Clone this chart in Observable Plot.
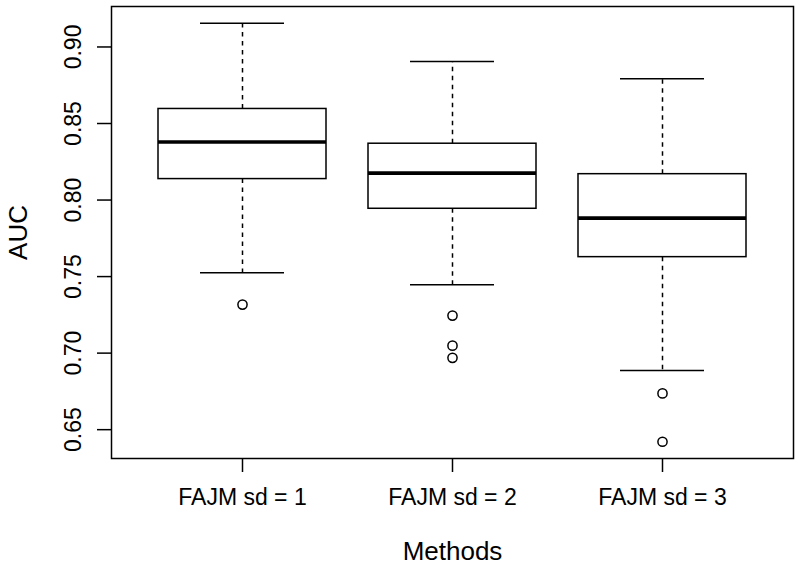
<!DOCTYPE html>
<html>
<head>
<meta charset="utf-8">
<script src="https://cdn.jsdelivr.net/npm/d3@7"></script>
<script src="https://cdn.jsdelivr.net/npm/@observablehq/plot@0.6"></script>
<style>
  html, body { margin: 0; padding: 0; background: white; }
  #chart { width: 800px; height: 566px; }
</style>
</head>
<body>
<div id="chart"></div>
<script>
// ---- Data ----
const methods = ["FAJM sd = 1", "FAJM sd = 2", "FAJM sd = 3"];
const lowerWhisker = [0.7525, 0.7446, 0.6887];
const q1 = [0.8137, 0.7943, 0.7627];
const median = [0.8379, 0.8176, 0.7882];
const q3 = [0.8595, 0.8368, 0.8169];
const upperWhisker = [0.9155, 0.8905, 0.8793];
const outlierMethod = ["FAJM sd = 1", "FAJM sd = 2", "FAJM sd = 2", "FAJM sd = 2", "FAJM sd = 3", "FAJM sd = 3"];
const outlierValue = [0.7317, 0.7245, 0.7049, 0.6969, 0.6737, 0.6421];
const yTicks = [0.65, 0.70, 0.75, 0.80, 0.85, 0.90];
const xTitle = "Methods";
const yTitle = "AUC";

// ---- Build tables ----
const boxes = methods.map((m, i) => ({
  method: m, lo: lowerWhisker[i], q1: q1[i], med: median[i], q3: q3[i], hi: upperWhisker[i]
}));
const outliers = outlierMethod.map((m, i) => ({method: m, value: outlierValue[i]}));

// R-style 4% extension of the data range
const allVals = [...lowerWhisker, ...upperWhisker, ...outlierValue];
const vmin = d3.min(allVals), vmax = d3.max(allVals);
const ext = (vmax - vmin) * 0.04;

const font = "'Liberation Sans', Arial, Helvetica, sans-serif";

const chart = Plot.plot({
  width: 800,
  height: 566,
  marginTop: 6,
  marginBottom: 108,
  marginLeft: 111,
  marginRight: 7,
  style: {fontFamily: font, background: "white", color: "black"},
  x: {type: "band", domain: methods, paddingInner: 0.2, paddingOuter: 0.22, align: 0.5},
  y: {domain: [vmin - ext, vmax + ext]},
  marks: [
    // whiskers (dashed)
    Plot.ruleX(boxes, {x: "method", y1: "q3", y2: "hi", stroke: "black", strokeWidth: 1.5, strokeDasharray: "4.5,4.5"}),
    Plot.ruleX(boxes, {x: "method", y1: "q1", y2: "lo", stroke: "black", strokeWidth: 1.5, strokeDasharray: "4.5,4.5"}),
    // staples
    Plot.tickY(boxes, {x: "method", y: "hi", stroke: "black", strokeWidth: 1.5, insetLeft: 42, insetRight: 42}),
    Plot.tickY(boxes, {x: "method", y: "lo", stroke: "black", strokeWidth: 1.5, insetLeft: 42, insetRight: 42}),
    // boxes
    Plot.barY(boxes, {x: "method", y1: "q1", y2: "q3", fill: "white", stroke: "black", strokeWidth: 1.5}),
    // medians
    Plot.tickY(boxes, {x: "method", y: "med", stroke: "black", strokeWidth: 3.6}),
    // outliers
    Plot.dot(outliers, {x: "method", y: "value", r: 4.6, fill: "white", stroke: "black", strokeWidth: 1.5}),
    // axes
    Plot.axisY({ticks: yTicks, tickFormat: d3.format(".2f"), tickRotate: -90, tickSize: 14, tickPadding: 17,
      fontSize: 23, label: null, stroke: "black", strokeWidth: 1.5, strokeOpacity: 1}),
    Plot.axisX({tickSize: 14, tickPadding: 16, fontSize: 23, label: null, stroke: "black", strokeWidth: 1.5, strokeOpacity: 1}),
    // axis titles
    Plot.text([yTitle], {frameAnchor: "left", rotate: -90, dx: -103, lineAnchor: "top", textAnchor: "middle", fontSize: 26, fill: "black"}),
    Plot.text([xTitle], {frameAnchor: "bottom", dy: 101, lineAnchor: "bottom", textAnchor: "middle", fontSize: 26, fill: "black"}),
    Plot.frame({stroke: "black", strokeWidth: 1.5})
  ]
});
document.getElementById("chart").appendChild(chart);
</script>
</body>
</html>
